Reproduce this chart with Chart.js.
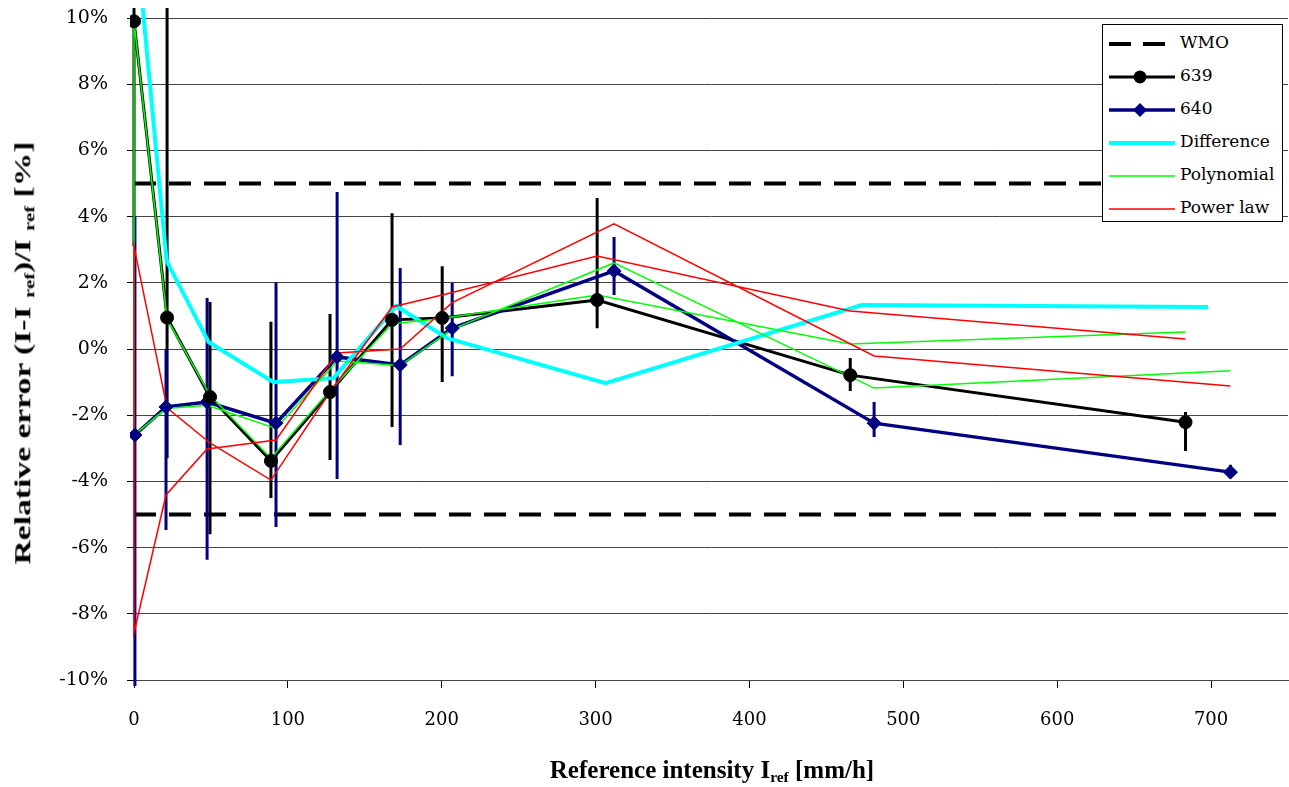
<!DOCTYPE html>
<html>
<head>
<meta charset="utf-8">
<script src="https://cdn.jsdelivr.net/npm/chart.js@4.4.1/dist/chart.umd.min.js"></script>
<style>
  body { margin: 0; background: #fff; }
  #wrap { position: relative; width: 1289px; height: 787px; overflow: hidden; }
  #chart { position: absolute; left: 0; top: 0; }
  #ytitle {
    position: absolute; left: 24px; top: 353px;
    transform: translate(-50%, -50%) rotate(-90deg) scaleX(1.4);
    white-space: nowrap; font: bold 24px "Liberation Serif", serif;
  }
  #xtitle {
    position: absolute; left: 712px; top: 771px;
    transform: translate(-50%, -50%);
    white-space: nowrap; font: bold 25px "Liberation Serif", serif;
  }
  sub { font-size: 62%; vertical-align: -0.3em; }
  #legend {
    position: absolute; left: 1102px; top: 24px; width: 179px; height: 196px;
    border: 1px solid #000; background: #fff;
  }
  .row { position: absolute; left: 0; height: 33px; width: 179px; font: 17px "DejaVu Serif", serif; }
  .row svg { position: absolute; left: 6px; top: 6px; }
  .row span { position: absolute; left: 77px; top: 5px; white-space: nowrap; }
</style>
</head>
<body>
<div id="wrap">
  <!-- canvas a bit wider than the page: chart.js keeps a few px on the right -->
  <canvas id="chart" width="1296" height="787"></canvas>
  <div id="ytitle">Relative error (I-I <sub>ref</sub>)/I <sub>ref</sub> [%]</div>
  <div id="xtitle">Reference intensity I<sub>ref</sub> [mm/h]</div>
  <div id="legend"></div>
</div>
<script>
// gauge 639
const x639 = [0, 21.5, 49.4, 89, 127.4, 167.7, 200.3, 301, 465.5, 683.4];
const y639 = [9.9, 0.95, -1.45, -3.38, -1.3, 0.88, 0.94, 1.48, -0.79, -2.21];
const lo639 = [3.1, -3.3, -5.6, -4.5, -3.35, -2.36, -1.0, 0.63, -1.27, -3.08];
const hi639 = [12, 12, 1.42, 0.82, 1.06, 4.1, 2.5, 4.56, -0.27, -1.9];

// gauge 640
const x640 = [0.6, 20.8, 47.5, 92.3, 132, 173, 206.8, 312, 481, 712.6];
const y640 = [-2.6, -1.75, -1.6, -2.24, -0.24, -0.48, 0.63, 2.36, -2.24, -3.72];
const lo640 = [-10.3, -5.47, -6.37, -5.38, -3.93, -2.9, -0.82, 1.63, -2.66, -3.9];
const hi640 = [4.0, 0.0, 1.54, 2.02, 4.74, 2.45, 2.0, 3.38, -1.6, -3.5];

// difference
const xDiff = [0, 21.2, 48.5, 90.7, 129.7, 170.4, 203.6, 306.5, 473, 698];
const yDiff = [13.1, 2.66, 0.21, -1.0, -0.88, 1.3, 0.33, -1.03, 1.33, 1.27];

// polynomial fits (640 curve backwards, then 639 curve)
const xPoly = [712.6, 481, 312, 206.8, 173, 132, 92.3, 47.5, 20.8, 0,
               0, 21.5, 49.4, 89, 127.4, 167.7, 200.3, 301, 465.5, 683.4];
const yPoly = [-0.66, -1.18, 2.6, 0.6, -0.5, -0.36, -2.4, -1.7, -1.8, -2.6,
               9.9, 0.9, -1.4, -3.3, -1.25, 0.76, 0.92, 1.63, 0.15, 0.51];

// power law fits, same order
const xPow = [712.6, 481, 312, 206.8, 173, 132, 92.3, 47.5, 20.8, 0,
              0, 21.5, 49.4, 89, 127.4, 167.7, 200.3, 301, 465.5, 683.4];
const yPow = [-1.12, -0.21, 3.78, 1.4, 0.0, -0.12, -2.75, -3.02, -4.41, -8.58,
              3.1, -1.78, -2.84, -3.96, -1.3, 1.27, 1.63, 2.81, 1.15, 0.3];

// WMO limits
const xWmo = [0, 750];
const wmoLimits = [5, -5];

const xTicks = [0, 100, 200, 300, 400, 500, 600, 700];
const yTicks = [-10, -8, -6, -4, -2, 0, 2, 4, 6, 8, 10];

const NAVY = "#000080";
const clip = { left: 4, right: 4, top: 10, bottom: 6 };

function pts(xs, ys) {
  return xs.map((x, i) => ({ x: x, y: ys[i] }));
}

// vertical bars, broken with a null between them
function bars(xs, lo, hi) {
  return xs.flatMap((x, i) => [{ x: x, y: lo[i] }, { x: x, y: hi[i] }, { x: x, y: null }]);
}

function wmoData() {
  const out = [];
  wmoLimits.forEach(v => {
    xWmo.forEach(x => out.push({ x: x, y: v }));
    out.push({ x: xWmo[1], y: null });
  });
  return out;
}

function line(data, color, width, order, extra) {
  return Object.assign({
    data: data, showLine: true, borderColor: color, backgroundColor: color,
    borderWidth: width, pointRadius: 0, tension: 0, spanGaps: false,
    order: order, clip: clip
  }, extra || {});
}

const datasets = [
  // markers on top
  { data: pts(x639, y639), showLine: false, pointStyle: "circle", pointRadius: 6.5,
    backgroundColor: "#000", borderColor: "#000", order: 0, clip: clip },
  { data: pts(x640, y640), showLine: false, pointStyle: "rectRot", pointRadius: 7,
    backgroundColor: NAVY, borderColor: NAVY, order: 0, clip: clip },
  line(pts(xPow, yPow), "#ff0000", 1.5, 1),
  line(pts(xPoly, yPoly), "#00ff00", 1.5, 2),
  line(pts(xDiff, yDiff), "#00ffff", 4, 3),
  line(pts(x640, y640), NAVY, 3.5, 4),
  line(bars(x640, lo640, hi640), NAVY, 3, 5),
  line(pts(x639, y639), "#000", 3, 6),
  line(bars(x639, lo639, hi639), "#000", 3, 7),
  line(wmoData(), "#000", 4, 8, { borderDash: [22, 13] })
];

new Chart(document.getElementById("chart"), {
  type: "scatter",
  data: { datasets: datasets },
  options: {
    responsive: false,
    animation: false,
    devicePixelRatio: 1,
    layout: { padding: { left: 0, top: 18, right: 0, bottom: 0 } },
    plugins: { legend: { display: false }, tooltip: { enabled: false } },
    scales: {
      x: {
        type: "linear", min: 0, max: 750,
        afterFit: s => { s.height = 107; s.paddingLeft = 0; s.paddingRight = 0; },
        afterBuildTicks: s => { s.ticks = xTicks.map(v => ({ value: v })); },
        ticks: { color: "#000", padding: 22, maxRotation: 0,
                 font: { family: "DejaVu Serif", size: 18 } },
        grid: { drawOnChartArea: false, tickLength: 8, tickColor: "#000" },
        border: { color: "#444", width: 1 }
      },
      y: {
        type: "linear", min: -10, max: 10,
        afterFit: s => { s.width = 134; s.paddingTop = 0; s.paddingBottom = 0; },
        afterBuildTicks: s => { s.ticks = yTicks.map(v => ({ value: v })); },
        ticks: { color: "#000", padding: 19, callback: v => v + "%",
                 font: { family: "DejaVu Serif", size: 19 } },
        grid: { color: "#444", lineWidth: 1, tickLength: 7, tickColor: "#000" },
        border: { color: "#444", width: 1 }
      }
    }
  }
});

// legend
const legendItems = [
  { label: "WMO", color: "#000", width: 4, dash: "22 12" },
  { label: "639", color: "#000", width: 3, marker: "circle" },
  { label: "640", color: NAVY, width: 3.5, marker: "diamond" },
  { label: "Difference", color: "#00ffff", width: 4 },
  { label: "Polynomial", color: "#00ff00", width: 1.5 },
  { label: "Power law", color: "#ff0000", width: 1.5 }
];

const legend = document.getElementById("legend");
legendItems.forEach((it, i) => {
  let svg = '<svg width="66" height="22">' +
    '<line x1="0" y1="11" x2="66" y2="11" stroke="' + it.color + '" stroke-width="' + it.width + '"' +
    (it.dash ? ' stroke-dasharray="' + it.dash + '"' : '') + '/>';
  if (it.marker === "circle") svg += '<circle cx="31" cy="11" r="6.5" fill="' + it.color + '"/>';
  if (it.marker === "diamond") svg += '<polygon points="31,4 38,11 31,18 24,11" fill="' + it.color + '"/>';
  svg += '</svg>';
  const row = document.createElement("div");
  row.className = "row";
  row.style.top = (1.5 + i * 33) + "px";
  row.innerHTML = svg + "<span>" + it.label + "</span>";
  legend.appendChild(row);
});
</script>
</body>
</html>
